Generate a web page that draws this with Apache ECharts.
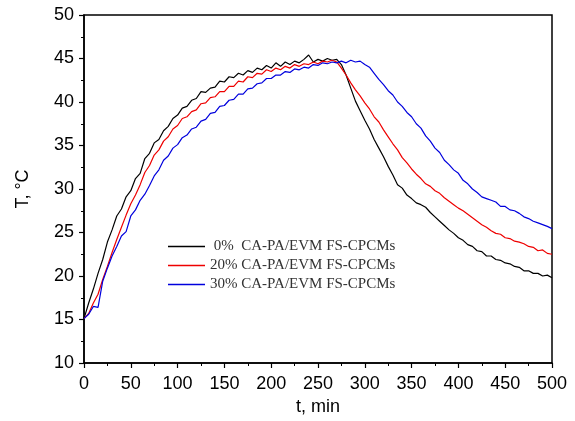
<!DOCTYPE html>
<html>
<head>
<meta charset="utf-8">
<script src="https://cdn.jsdelivr.net/npm/echarts@6/dist/echarts.min.js"></script>
<style>
  html, body { margin: 0; padding: 0; background: #fff; }
  #chart { width: 575px; height: 421px; }
</style>
</head>
<body>
<div id="chart"></div>
<script>
// sampling times, min
var times = [0, 5, 10, 15, 20, 25, 30, 35, 40, 45, 50, 55, 60, 65, 70, 75, 80, 85, 90, 95,
    100, 105, 110, 115, 120, 125, 130, 135, 140, 145, 150, 155, 160, 165, 170, 175, 180, 185, 190, 195,
    200, 205, 210, 215, 220, 225, 230, 235, 240, 245, 250, 255, 260, 265, 270, 275, 280, 285, 290, 295,
    300, 305, 310, 315, 320, 325, 330, 335, 340, 345, 350, 355, 360, 365, 370, 375, 380, 385, 390, 395,
    400, 405, 410, 415, 420, 425, 430, 435, 440, 445, 450, 455, 460, 465, 470, 475, 480, 485, 490, 495, 500];

// temperatures, °C
var temp0 = [15.1, 16.9, 18.5, 20.3, 21.9, 23.9, 25.3, 26.9, 27.7, 29.1, 29.8, 31.2, 31.8, 33.5, 34.1, 35.3, 35.7, 36.7, 37.2, 38.1,
    38.5, 39.3, 39.5, 40.2, 40.4, 41.2, 41.1, 41.6, 41.7, 42.4, 42.3, 42.9, 42.8, 43.3, 43.1, 43.6, 43.4, 43.9, 43.7, 44.2,
    43.9, 44.5, 44.1, 44.6, 44.3, 44.7, 44.5, 44.9, 45.4, 44.6, 44.9, 44.7, 45.0, 44.8, 44.9, 44.3, 43.1, 41.6, 40.1, 39.0,
    37.9, 36.9, 35.7, 34.7, 33.7, 32.6, 31.6, 30.5, 30.1, 29.3, 28.9, 28.4, 28.2, 27.9, 27.3, 26.8, 26.3, 25.8, 25.3, 24.9,
    24.4, 24.1, 23.6, 23.4, 22.9, 22.8, 22.3, 22.3, 21.9, 21.8, 21.5, 21.4, 21.1, 21.0, 20.6, 20.6, 20.3, 20.3, 20.0, 20.1, 19.8];

var temp20 = [15.1, 15.7, 16.9, 17.9, 19.6, 21.1, 22.7, 24.2, 25.6, 27.0, 28.3, 29.3, 30.5, 31.9, 32.7, 33.9, 34.5, 35.5, 36.0, 36.9,
    37.3, 38.1, 38.3, 38.9, 39.1, 39.8, 39.9, 40.5, 40.6, 41.2, 41.2, 41.8, 41.8, 42.4, 42.3, 42.9, 42.8, 43.3, 43.2, 43.7,
    43.5, 43.9, 43.7, 44.1, 43.9, 44.3, 44.1, 44.4, 44.3, 44.6, 44.4, 44.7, 44.6, 44.8, 44.6, 43.9, 43.1, 42.2, 41.4, 40.7,
    39.9, 39.2, 38.3, 37.7, 36.8, 36.0, 35.2, 34.5, 33.6, 33.0, 32.3, 31.7, 31.2, 30.6, 30.3, 29.8, 29.5, 29.0, 28.6, 28.2,
    27.8, 27.5, 27.1, 26.7, 26.3, 25.9, 25.6, 25.2, 24.9, 24.8, 24.4, 24.3, 24.0, 23.9, 23.7, 23.4, 23.3, 22.9, 23.0, 22.6, 22.5];

var temp30 = [15.1, 15.6, 16.5, 16.4, 19.4, 20.9, 22.3, 23.4, 24.6, 25.1, 26.9, 27.6, 28.7, 29.4, 30.4, 31.5, 32.2, 33.3, 33.8, 34.7,
    35.1, 35.9, 36.2, 36.9, 37.1, 37.8, 38.0, 38.7, 38.8, 39.5, 39.6, 40.2, 40.3, 40.9, 40.9, 41.5, 41.6, 42.1, 42.2, 42.7,
    42.7, 43.1, 43.1, 43.5, 43.4, 43.8, 43.7, 44.0, 43.9, 44.3, 44.2, 44.5, 44.4, 44.6, 44.5, 44.7, 44.5, 44.8, 44.6, 44.7,
    44.3, 44.0, 43.3, 42.6, 42.0, 41.3, 40.8, 40.0, 39.5, 38.8, 38.3, 37.5, 37.0, 36.1, 35.5, 34.7, 34.2, 33.3, 32.8, 32.2,
    31.8, 31.0, 30.6, 30.0, 29.6, 29.1, 28.9, 28.7, 28.5, 28.0, 28.0, 27.6, 27.5, 27.2, 26.8, 26.6, 26.3, 26.1, 25.9, 25.7, 25.45];

var seriesNames = [' 0%  CA-PA/EVM FS-CPCMs', '20% CA-PA/EVM FS-CPCMs', '30% CA-PA/EVM FS-CPCMs'];
var seriesColors = ['#000000', '#ee0000', '#0000dd'];

function pairs(ys) {
    var out = [];
    for (var i = 0; i < times.length; i++) {
        out.push([times[i], ys[i]]);
    }
    return out;
}

var myChart = echarts.init(document.getElementById('chart'));

var allTemps = [temp0, temp20, temp30];
var temp_series = [];
for (var i = 0; i < allTemps.length; i++) {
    temp_series.push({
        name: seriesNames[i],
        type: 'line',
        symbol: 'none',
        animation: false,
        lineStyle: { width: 1.2, color: seriesColors[i] },
        itemStyle: { color: seriesColors[i] },
        data: pairs(allTemps[i])
    });
}

var axisFont = { fontFamily: 'Liberation Sans', fontSize: 18, color: '#000' };

var option = {
    backgroundColor: '#fff',
    animation: false,
    grid: {
        left: 84, right: 23, top: 15, bottom: 58,
        show: true, borderColor: '#000', borderWidth: 1.5
    },
    legend: {
        orient: 'vertical',
        left: 163, top: 234,
        icon: 'rect',
        itemWidth: 37, itemHeight: 1.5, itemGap: 4,
        textStyle: { fontFamily: 'Liberation Serif', fontSize: 15, color: '#333' },
        data: seriesNames
    },
    xAxis: {
        type: 'value',
        min: 0, max: 500, interval: 50,
        name: 't, min',
        nameLocation: 'middle',
        nameGap: 32,
        nameTextStyle: axisFont,
        axisLine: { lineStyle: { color: '#000', width: 1.5 } },
        axisTick: { length: 5, lineStyle: { color: '#000', width: 1.2 } },
        minorTick: { show: true, splitNumber: 2, length: 3, lineStyle: { color: '#000' } },
        axisLabel: Object.assign({ margin: 12 }, axisFont),
        splitLine: { show: false }
    },
    yAxis: {
        type: 'value',
        min: 10, max: 50, interval: 5,
        name: 'T, °C',
        nameLocation: 'middle',
        nameGap: 52,
        nameTextStyle: axisFont,
        axisLine: { show: true, lineStyle: { color: '#000', width: 1.5 } },
        axisTick: { show: true, length: 5, lineStyle: { color: '#000', width: 1.2 } },
        minorTick: { show: true, splitNumber: 2, length: 3, lineStyle: { color: '#000' } },
        axisLabel: Object.assign({ margin: 10 }, axisFont),
        splitLine: { show: false }
    },
    series: temp_series
};

myChart.setOption(option);
</script>
</body>
</html>
